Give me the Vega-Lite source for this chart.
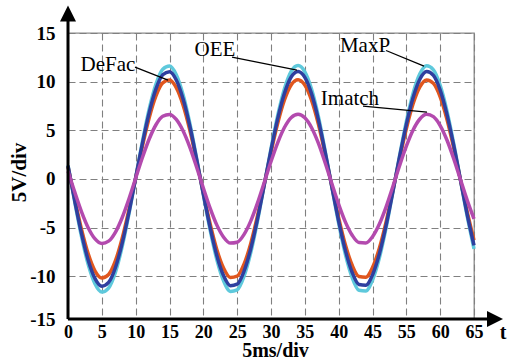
{
  "$schema": "https://vega.github.io/schema/vega-lite/v6.json",
  "width": 406,
  "height": 286,
  "autosize": {"type": "none"},
  "padding": {"left": 68, "top": 33, "right": 36, "bottom": 40},
  "background": "white",
  "config": {
    "view": {"stroke": "#8a8a8a", "strokeWidth": 1.3},
    "font": "Liberation Serif"
  },
  "datasets": {
    "curves": [
      {"t":0,"MaxP":1.41,"OEE":1.34,"DeFac":1.23,"Imatch":0.80},
      {"t":1,"MaxP":-2.39,"OEE":-2.27,"DeFac":-2.09,"Imatch":-1.36},
      {"t":2,"MaxP":-5.93,"OEE":-5.62,"DeFac":-5.19,"Imatch":-3.38},
      {"t":3,"MaxP":-8.83,"OEE":-8.38,"DeFac":-7.73,"Imatch":-5.04},
      {"t":4,"MaxP":-10.81,"OEE":-10.25,"DeFac":-9.47,"Imatch":-6.17},
      {"t":5,"MaxP":-11.63,"OEE":-11.03,"DeFac":-10.18,"Imatch":-6.64},
      {"t":6,"MaxP":-11.22,"OEE":-10.64,"DeFac":-9.82,"Imatch":-6.40},
      {"t":7,"MaxP":-9.62,"OEE":-9.13,"DeFac":-8.43,"Imatch":-5.49},
      {"t":8,"MaxP":-6.99,"OEE":-6.63,"DeFac":-6.12,"Imatch":-3.99},
      {"t":9,"MaxP":-3.63,"OEE":-3.45,"DeFac":-3.18,"Imatch":-2.07},
      {"t":10,"MaxP":0.12,"OEE":0.11,"DeFac":0.10,"Imatch":0.07},
      {"t":11,"MaxP":3.86,"OEE":3.66,"DeFac":3.38,"Imatch":2.20},
      {"t":12,"MaxP":7.19,"OEE":6.82,"DeFac":6.29,"Imatch":4.10},
      {"t":13,"MaxP":9.75,"OEE":9.25,"DeFac":8.54,"Imatch":5.57},
      {"t":14,"MaxP":11.28,"OEE":10.70,"DeFac":9.87,"Imatch":6.44},
      {"t":15,"MaxP":11.61,"OEE":11.02,"DeFac":10.17,"Imatch":6.63},
      {"t":16,"MaxP":10.72,"OEE":10.17,"DeFac":9.38,"Imatch":6.12},
      {"t":17,"MaxP":8.68,"OEE":8.23,"DeFac":7.60,"Imatch":4.95},
      {"t":18,"MaxP":5.73,"OEE":5.44,"DeFac":5.02,"Imatch":3.27},
      {"t":19,"MaxP":2.16,"OEE":2.04,"DeFac":1.89,"Imatch":1.23},
      {"t":20,"MaxP":-1.63,"OEE":-1.55,"DeFac":-1.43,"Imatch":-0.93},
      {"t":21,"MaxP":-5.25,"OEE":-4.98,"DeFac":-4.60,"Imatch":-3.00},
      {"t":22,"MaxP":-8.32,"OEE":-7.89,"DeFac":-7.28,"Imatch":-4.75},
      {"t":23,"MaxP":-10.50,"OEE":-9.96,"DeFac":-9.19,"Imatch":-5.99},
      {"t":24,"MaxP":-11.57,"OEE":-10.97,"DeFac":-10.13,"Imatch":-6.60},
      {"t":25,"MaxP":-11.41,"OEE":-10.82,"DeFac":-9.99,"Imatch":-6.51},
      {"t":26,"MaxP":-10.03,"OEE":-9.51,"DeFac":-8.78,"Imatch":-5.73},
      {"t":27,"MaxP":-7.60,"OEE":-7.20,"DeFac":-6.65,"Imatch":-4.34},
      {"t":28,"MaxP":-4.36,"OEE":-4.13,"DeFac":-3.81,"Imatch":-2.49},
      {"t":29,"MaxP":-0.65,"OEE":-0.62,"DeFac":-0.57,"Imatch":-0.37},
      {"t":30,"MaxP":3.13,"OEE":2.97,"DeFac":2.74,"Imatch":1.79},
      {"t":31,"MaxP":6.56,"OEE":6.22,"DeFac":5.74,"Imatch":3.74},
      {"t":32,"MaxP":9.30,"OEE":8.82,"DeFac":8.14,"Imatch":5.31},
      {"t":33,"MaxP":11.07,"OEE":10.50,"DeFac":9.69,"Imatch":6.32},
      {"t":34,"MaxP":11.65,"OEE":11.05,"DeFac":10.20,"Imatch":6.65},
      {"t":35,"MaxP":11.01,"OEE":10.44,"DeFac":9.64,"Imatch":6.28},
      {"t":36,"MaxP":9.22,"OEE":8.74,"DeFac":8.07,"Imatch":5.26},
      {"t":37,"MaxP":6.43,"OEE":6.10,"DeFac":5.63,"Imatch":3.67},
      {"t":38,"MaxP":2.90,"OEE":2.75,"DeFac":2.54,"Imatch":1.66},
      {"t":39,"MaxP":-0.87,"OEE":-0.83,"DeFac":-0.77,"Imatch":-0.50},
      {"t":40,"MaxP":-4.57,"OEE":-4.33,"DeFac":-4.00,"Imatch":-2.61},
      {"t":41,"MaxP":-7.77,"OEE":-7.37,"DeFac":-6.80,"Imatch":-4.44},
      {"t":42,"MaxP":-10.15,"OEE":-9.62,"DeFac":-8.88,"Imatch":-5.79},
      {"t":43,"MaxP":-11.45,"OEE":-10.86,"DeFac":-10.03,"Imatch":-6.54},
      {"t":44,"MaxP":-11.53,"OEE":-10.94,"DeFac":-10.10,"Imatch":-6.58},
      {"t":45,"MaxP":-10.40,"OEE":-9.87,"DeFac":-9.11,"Imatch":-5.94},
      {"t":46,"MaxP":-8.17,"OEE":-7.75,"DeFac":-7.15,"Imatch":-4.66},
      {"t":47,"MaxP":-5.07,"OEE":-4.81,"DeFac":-4.44,"Imatch":-2.89},
      {"t":48,"MaxP":-1.41,"OEE":-1.34,"DeFac":-1.23,"Imatch":-0.80},
      {"t":49,"MaxP":2.39,"OEE":2.27,"DeFac":2.09,"Imatch":1.36},
      {"t":50,"MaxP":5.89,"OEE":5.59,"DeFac":5.16,"Imatch":3.36},
      {"t":51,"MaxP":8.82,"OEE":8.36,"DeFac":7.72,"Imatch":5.03},
      {"t":52,"MaxP":10.80,"OEE":10.24,"DeFac":9.46,"Imatch":6.16},
      {"t":53,"MaxP":11.63,"OEE":11.03,"DeFac":10.18,"Imatch":6.64},
      {"t":54,"MaxP":11.22,"OEE":10.64,"DeFac":9.82,"Imatch":6.40},
      {"t":55,"MaxP":9.62,"OEE":9.13,"DeFac":8.43,"Imatch":5.49},
      {"t":56,"MaxP":7.00,"OEE":6.64,"DeFac":6.13,"Imatch":4.00},
      {"t":57,"MaxP":3.65,"OEE":3.46,"DeFac":3.19,"Imatch":2.08},
      {"t":58,"MaxP":-0.12,"OEE":-0.11,"DeFac":-0.10,"Imatch":-0.07},
      {"t":59,"MaxP":-3.86,"OEE":-3.66,"DeFac":-3.38,"Imatch":-2.20},
      {"t":60,"MaxP":-7.19,"OEE":-6.82,"DeFac":-6.29,"Imatch":-4.10}
    ],
    "notes": [
      {"x":5.91,"y":11.71,"label":"DeFac"},
      {"x":21.72,"y":13.25,"label":"OEE"},
      {"x":43.89,"y":13.66,"label":"MaxP"},
      {"x":41.67,"y":8.21,"label":"Imatch"}
    ],
    "leaders": [
      {"x":9.9,"y":11.5,"x2":14.78,"y2":10.16},
      {"x":24.24,"y":12.53,"x2":33.84,"y2":11.19},
      {"x":47.0,"y":13.2,"x2":52.61,"y2":11.6},
      {"x":43.6,"y":7.49,"x2":53.05,"y2":6.87}
    ],
    "axes": [
      {"x":0,"y":-14.4,"x2":0,"y2":16.3},
      {"x":0,"y":-14.4,"x2":62.5,"y2":-14.4}
    ]
  },
  "layer": [
    {
      "data": {"name": "curves"},
      "transform": [{"fold": ["MaxP", "DeFac", "OEE", "Imatch"], "as": ["series", "v"]}],
      "mark": {"type": "line", "strokeWidth": 3.5, "interpolate": "monotone"},
      "encoding": {
        "x": {
          "field": "t", "type": "quantitative",
          "scale": {"domain": [0, 60], "nice": false, "zero": false},
          "axis": {
            "values": [0,5,10,15,20,25,30,35,40,45,50,55,60],
            "tickCount": 20,
            "labelExpr": "datum.value >= 50 ? format(datum.value + 5, 'd') : datum.label",
            "domain": false, "ticks": false, "tickSize": 0,
            "grid": true, "gridColor": "#808080", "gridDash": [7, 4], "gridWidth": 1.1, "gridOpacity": 1,
            "labelFont": "Liberation Serif", "labelFontWeight": "bold", "labelFontSize": 18, "labelColor": "black",
            "labelBaseline": "middle", "labelPadding": 13, "labelOverlap": false, "labelFlush": false, "labelBound": false,
            "title": "5ms/div", "titleFont": "Liberation Serif", "titleFontWeight": "bold", "titleFontSize": 20, "titleColor": "black",
            "titleX": 207, "titleY": 31, "titleBaseline": "middle", "titleAlign": "center"
          }
        },
        "y": {
          "field": "v", "type": "quantitative",
          "scale": {"domain": [-14.4, 15], "nice": false, "zero": false},
          "axis": {
            "values": [-14.4, -10, -5, 0, 5, 10, 15],
            "tickCount": 20,
            "labelExpr": "datum.value < -14 ? '-15' : datum.value < 0 ? '-' + format(-datum.value, 'd') : datum.label",
            "domain": false, "ticks": false, "tickSize": 0,
            "grid": true, "gridColor": "#808080", "gridDash": [7, 4], "gridWidth": 1.1, "gridOpacity": 1,
            "labelFont": "Liberation Serif", "labelFontWeight": "bold", "labelFontSize": 19, "labelColor": "black",
            "labelPadding": 13, "labelOverlap": false, "labelFlush": false, "labelBound": false,
            "title": "5V/div", "titleFont": "Liberation Serif", "titleFontWeight": "bold", "titleFontSize": 21, "titleColor": "black",
            "titleX": -49, "titleY": 139, "titleAngle": -90, "titleBaseline": "middle", "titleAlign": "center"
          }
        },
        "color": {
          "field": "series", "type": "nominal",
          "scale": {"domain": ["MaxP", "DeFac", "OEE", "Imatch"], "range": ["#5ec9dc", "#e0561e", "#2f3f9f", "#b34aae"]},
          "legend": null
        }
      }
    },
    {
      "data": {"name": "leaders"},
      "mark": {"type": "rule", "color": "black", "strokeWidth": 1.3},
      "encoding": {
        "x": {"field": "x", "type": "quantitative"},
        "y": {"field": "y", "type": "quantitative"},
        "x2": {"field": "x2"},
        "y2": {"field": "y2"}
      }
    },
    {
      "data": {"name": "notes"},
      "mark": {"type": "text", "font": "Liberation Serif", "fontSize": 21, "color": "black", "align": "center", "baseline": "middle"},
      "encoding": {
        "x": {"field": "x", "type": "quantitative"},
        "y": {"field": "y", "type": "quantitative"},
        "text": {"field": "label"}
      }
    },
    {
      "data": {"name": "axes"},
      "mark": {"type": "rule", "color": "black", "strokeWidth": 3},
      "encoding": {
        "x": {"field": "x", "type": "quantitative"},
        "y": {"field": "y", "type": "quantitative"},
        "x2": {"field": "x2"},
        "y2": {"field": "y2"}
      }
    },
    {
      "data": {"values": [{"x": 0, "y": 17.0}]},
      "mark": {"type": "point", "shape": "M0,-1L1,1L-1,1Z", "size": 256, "filled": true, "color": "black", "opacity": 1},
      "encoding": {
        "x": {"field": "x", "type": "quantitative"},
        "y": {"field": "y", "type": "quantitative"}
      }
    },
    {
      "data": {"values": [{"x": 63.1, "y": -14.4}]},
      "mark": {"type": "point", "shape": "M1,0L-1,-1L-1,1Z", "size": 256, "filled": true, "color": "black", "opacity": 1},
      "encoding": {
        "x": {"field": "x", "type": "quantitative"},
        "y": {"field": "y", "type": "quantitative"}
      }
    },
    {
      "data": {"values": [{"x": 64.28, "y": -15.86, "label": "t"}]},
      "mark": {"type": "text", "font": "Liberation Serif", "fontSize": 20, "fontWeight": "bold", "color": "black", "align": "center", "baseline": "middle"},
      "encoding": {
        "x": {"field": "x", "type": "quantitative"},
        "y": {"field": "y", "type": "quantitative"},
        "text": {"field": "label"}
      }
    }
  ]
}
